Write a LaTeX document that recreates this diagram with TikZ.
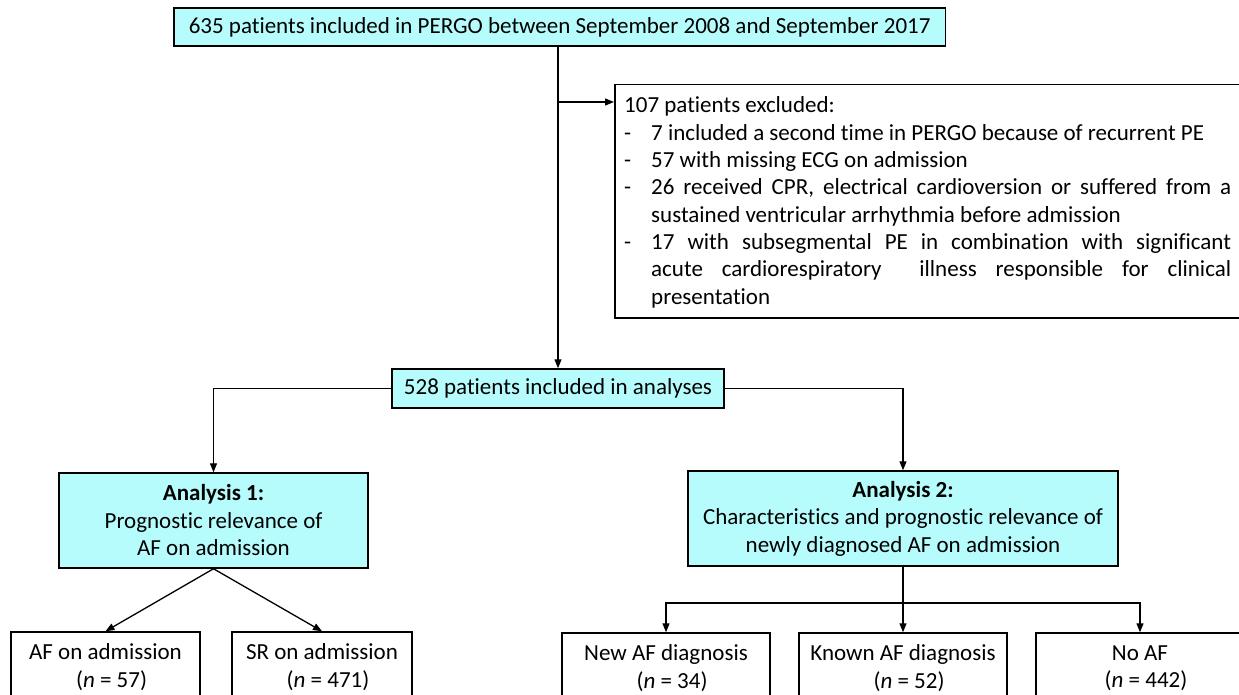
\documentclass[tikz,border=0pt]{standalone}
\usepackage{fontspec}
\setmainfont{Carlito}[Ligatures={NoCommon,NoContextual}]
\usetikzlibrary{arrows.meta,calc}
\definecolor{boxcyan}{RGB}{183,252,253}
\begin{document}
\begin{tikzpicture}[x=1pt,y=-1pt,
  every node/.style={font=\fontsize{23}{27.5}\selectfont},
  cbox/.style={draw=black, line width=1.5pt, fill=boxcyan, inner sep=0pt, align=center},
  wbox/.style={draw=black, line width=1.5pt, fill=white, inner sep=0pt, align=center},
  conn/.style={line width=1.3pt},
  arr/.style={conn, -{Triangle[length=9pt,width=7pt]}},
  exline/.style={anchor=base west, inner sep=0pt}
]
\useasboundingbox (0,0) rectangle (1239,695);

% top box
\node[cbox, anchor=west, minimum height=38pt, inner xsep=15pt] (top) at (173,27)
  {635 patients included in PERGO between September 2008 and September 2017};

% exclusion box
\node[draw=black, line width=1.5pt, fill=white, anchor=north west, minimum width=630pt, minimum height=233pt, inner sep=0pt] (excl) at (614,84) {};
\node[exline] (e1) at (624,113) {107 patients excluded:};
\node[exline] (e2) at (624,140.3) {\makebox[27pt][l]{-}7 included a second time in PERGO because of recurrent PE};
\node[exline] (e3) at (624,167.6) {\makebox[27pt][l]{-}57 with missing ECG on admission};
\node[exline] (e4) at (624,194.9) {\makebox[27pt][l]{-}\hbox to 580pt{26 received CPR, electrical cardioversion or suffered from a}};
\node[exline] (e5) at (624,222.2) {\hspace*{27pt}sustained ventricular arrhythmia before admission};
\node[exline] (e6) at (624,249.5) {\makebox[27pt][l]{-}\hbox to 580pt{17 with subsegmental PE in combination with significant}};
\node[exline] (e7) at (624,276.8) {\hspace*{27pt}\hbox to 580pt{acute cardiorespiratory\ \ illness responsible for clinical}};
\node[exline] (e8) at (624,304.1) {\hspace*{27pt}presentation};

% 528 box
\node[cbox, minimum width=332pt, minimum height=39pt] (n528) at (558,388.5) {528 patients included in analyses};

% analysis boxes
\node[cbox, minimum width=309pt, minimum height=95pt] (a1) at (213.5,520.5)
  {\textbf{Analysis 1:}\\Prognostic relevance of\\AF on admission};
\node[cbox, minimum width=430pt, minimum height=95pt] (a2) at (903,518.5)
  {\textbf{Analysis 2:}\\Characteristics and prognostic relevance of\\newly diagnosed AF on admission};

% bottom boxes
\node[wbox, minimum width=189pt, minimum height=70pt] (af) at (105.5,667)
  {AF on admission\\\hspace*{12pt}(\textit{n} = 57)};
\node[wbox, minimum width=180pt, minimum height=70pt] (sr) at (322,667)
  {SR on admission\\\hspace*{12pt}(\textit{n} = 471)};
\node[wbox, minimum width=208pt, minimum height=70pt] (new) at (666,668)
  {New AF diagnosis\\\hspace*{12pt}(\textit{n} = 34)};
\node[wbox, minimum width=208pt, minimum height=70pt] (known) at (903,668)
  {Known AF diagnosis\\\hspace*{12pt}(\textit{n} = 52)};
\node[wbox, minimum width=208pt, minimum height=70pt] (noaf) at (1140,668)
  {No AF\\\hspace*{12pt}(\textit{n} = 442)};

% connectors
\draw[arr] (top.south -| n528.north) -- (n528.north);
\coordinate (b1) at (558,102);
\draw[arr] (b1) -- (b1 -| excl.west);
\draw[arr] (n528.west) -| (a1.north);
\draw[arr] (n528.east) -| (a2.north);
\draw[arr] (a1.south) -- (af.north);
\draw[arr] (a1.south) -- (sr.north);
\coordinate (hub) at (903,603);
\draw[conn] (a2.south) -- (hub);
\draw[arr] (hub) -| (new.north);
\draw[arr] (hub) -| (noaf.north);
\draw[arr] (hub) -- (known.north);
\draw[line width=2.6pt] ($(hub)+(-64,0)$) -- ($(hub)+(58,0)$);
\end{tikzpicture}
\end{document}
